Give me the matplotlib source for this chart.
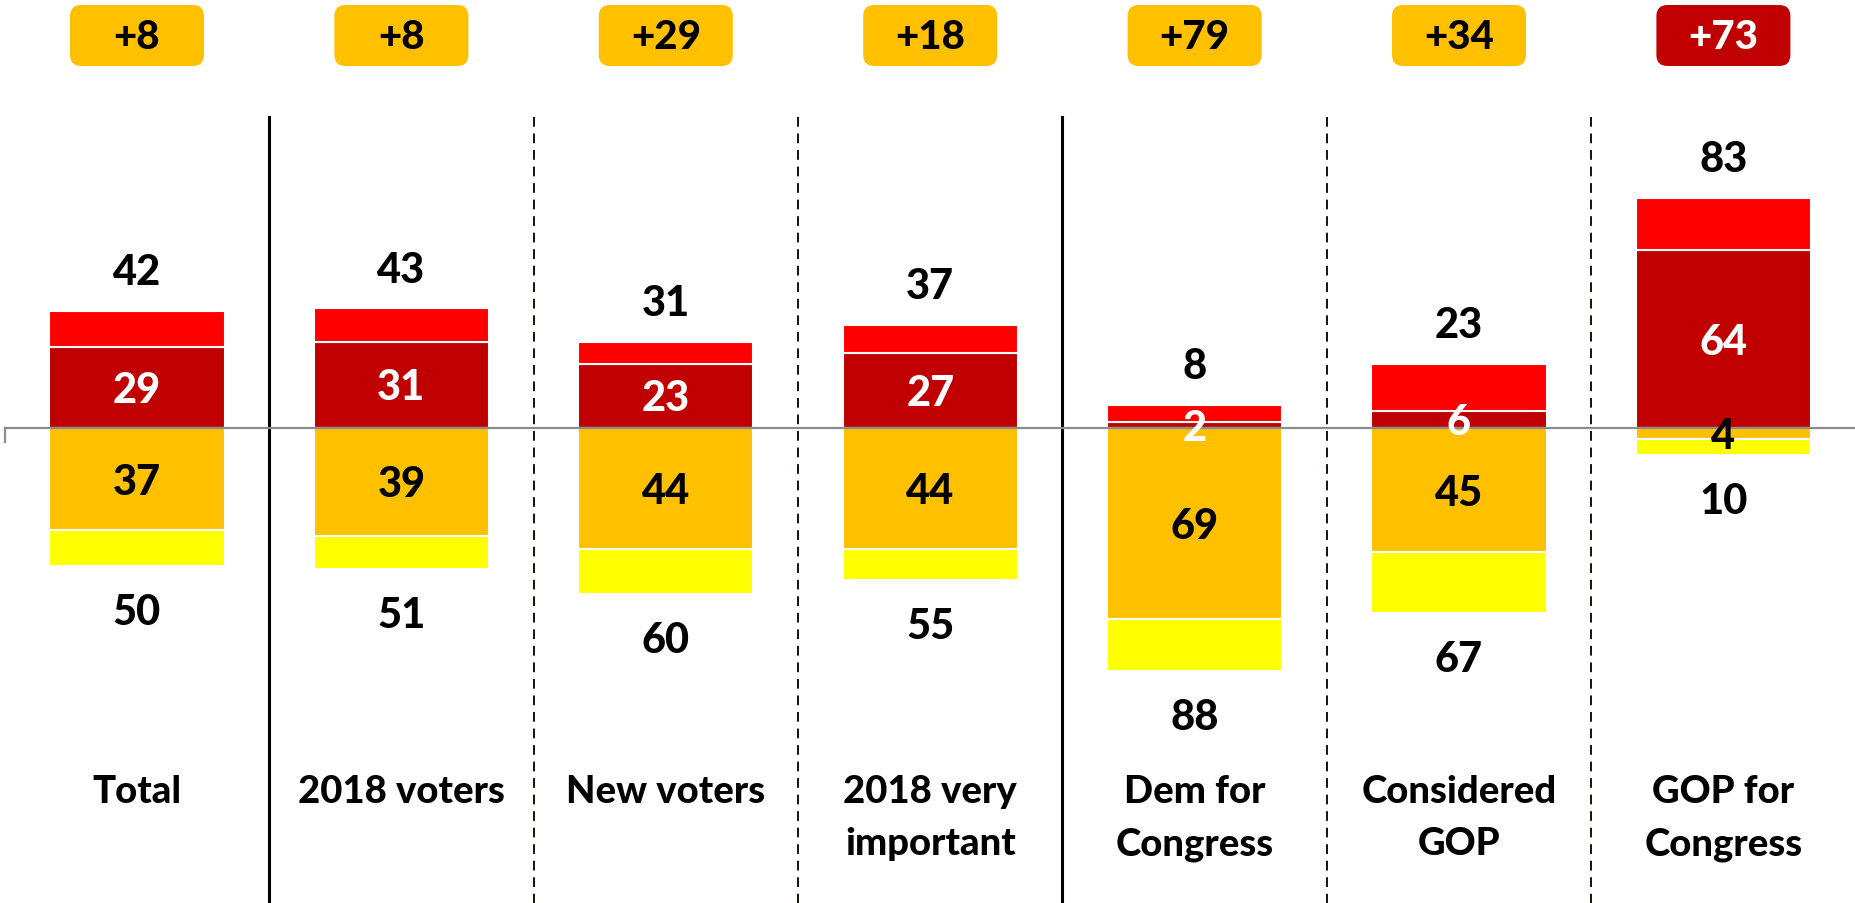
import matplotlib
matplotlib.use("Agg")
import matplotlib.pyplot as plt
from matplotlib.patches import FancyBboxPatch
from matplotlib import font_manager
import numpy as np

# ---- data ----
categories = ["Total", "2018 voters", "New voters", "2018 very\nimportant",
              "Dem for\nCongress", "Considered\nGOP", "GOP for\nCongress"]
strong_up = [29, 31, 23, 27, 2, 6, 64]      # dark red
total_up = [42, 43, 31, 37, 8, 23, 83]      # dark red + red
strong_down = [37, 39, 44, 44, 69, 45, 4]   # orange
total_down = [50, 51, 60, 55, 88, 67, 10]   # orange + yellow
badges = ["+8", "+8", "+29", "+18", "+79", "+34", "+73"]
badge_side = ["down", "down", "down", "down", "down", "down", "up"]
separators = ["solid", "dashed", "dashed", "solid", "dashed", "dashed"]

C_DARK = "#C00000"
C_RED = "#FF0000"
C_ORANGE = "#FFC000"
C_YELLOW = "#FFFF00"

plt.rcParams['font.family'] = ['Lato', 'DejaVu Sans']
lato_w = {f.weight for f in font_manager.fontManager.ttflist if f.name == "Lato"}
WEIGHT = 900 if 900 in lato_w else (800 if 800 in lato_w else "bold")

W, H = 1856, 904
fig = plt.figure(figsize=(W / 100, H / 100), dpi=100)
ax = fig.add_axes([0, 0, 1, 1])

px_x = 264.4      # pixels per category
px_y = 2.77       # pixels per unit
x0_px = 137.0     # center of first category
y0_px = 428.5     # zero line from top
ax.set_xlim(-x0_px / px_x, (W - x0_px) / px_x)
ax.set_ylim(-(H - y0_px) / px_y, y0_px / px_y)
ax.axis("off")

x = np.arange(len(categories))
su = np.array(strong_up)
tu = np.array(total_up)
sd = np.array(strong_down)
td = np.array(total_down)
bw = 0.663

ax.bar(x, su, width=bw, color=C_DARK, edgecolor="white", linewidth=1.5, zorder=2)
ax.bar(x, tu - su, bottom=su, width=bw, color=C_RED, edgecolor="white", linewidth=1.5, zorder=2)
ax.bar(x, -sd, width=bw, color=C_ORANGE, edgecolor="white", linewidth=1.5, zorder=2)
ax.bar(x, -(td - sd), bottom=-sd, width=bw, color=C_YELLOW, edgecolor="white", linewidth=1.5, zorder=2)

# zero line with left tick
xl = ax.get_xlim()[0] + 5 / px_x
ax.plot([xl, ax.get_xlim()[1]], [0, 0], color="#8C8C8C", lw=1.6, zorder=3)
ax.plot([xl, xl], [0, -14 / px_y], color="#8C8C8C", lw=1.6, zorder=3)

# separators
ytop = (y0_px - 118) / px_y
for i, st in enumerate(separators):
    if st == "solid":
        ax.plot([i + 0.5, i + 0.5], [ytop, ax.get_ylim()[0]], color="black", lw=2.2, zorder=1)
    else:
        ax.plot([i + 0.5, i + 0.5], [ytop, ax.get_ylim()[0]], color="#1a1008", lw=1.4,
                linestyle=(0, (5, 3.5)), zorder=1)

fs_num = 30
# segment labels
for i in x:
    ax.annotate(str(su[i]), (i, su[i] / 2), xytext=(0, -2), textcoords="offset points",
                ha="center", va="center", color="white", fontsize=fs_num, fontweight=WEIGHT, zorder=5)
    ax.annotate(str(sd[i]), (i, -sd[i] / 2), xytext=(0, -2), textcoords="offset points",
                ha="center", va="center", color="black", fontsize=fs_num, fontweight=WEIGHT, zorder=5)
    ax.annotate(str(tu[i]), (i, tu[i]), xytext=(0, 28), textcoords="offset points",
                ha="center", va="center", color="black", fontsize=fs_num, fontweight=WEIGHT)
    ax.annotate(str(td[i]), (i, -td[i]), xytext=(0, -33), textcoords="offset points",
                ha="center", va="center", color="black", fontsize=fs_num, fontweight=WEIGHT)
    ax.text(i, (y0_px - 775) / px_y, categories[i], ha="center", va="top",
            fontsize=27.5, fontweight=WEIGHT, linespacing=1.66)

# badges
bw_b = 134 / px_x
bh_b = 61 / px_y
yc_b = (y0_px - 36.5) / px_y
aspect = px_x / px_y
for i in x:
    fc = C_DARK if badge_side[i] == "up" else C_ORANGE
    tc = "white" if badge_side[i] == "up" else "black"
    p = FancyBboxPatch((i - bw_b / 2, yc_b - bh_b / 2), bw_b, bh_b,
                       boxstyle="round,pad=0,rounding_size=%f" % (11 / px_x),
                       mutation_aspect=aspect, fc=fc, ec="none", zorder=4)
    ax.add_patch(p)
    ax.annotate(badges[i], (i, yc_b), xytext=(0, -1), textcoords="offset points",
                ha="center", va="center", color=tc, fontsize=29, fontweight=WEIGHT, zorder=5)

fig.savefig("out.png", dpi=100)
